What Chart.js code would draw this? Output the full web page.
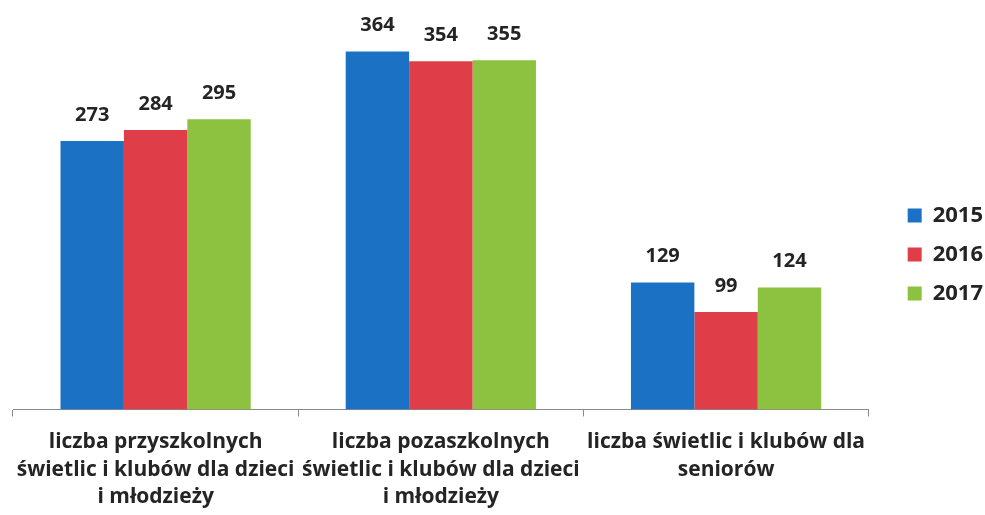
<!DOCTYPE html>
<html>
<head>
<meta charset="utf-8">
<script src="https://cdn.jsdelivr.net/npm/chart.js@4/dist/chart.umd.min.js"></script>
<style>
  html, body { margin: 0; padding: 0; background: #ffffff; }
  #wrap { width: 985px; height: 515px; position: relative; }
</style>
</head>
<body>
<div id="wrap"><canvas id="c"></canvas></div>
<script>
const categories = [
  ["liczba przyszkolnych", "świetlic i klubów dla dzieci", "i młodzieży"],
  ["liczba pozaszkolnych", "świetlic i klubów dla dzieci", "i młodzieży"],
  ["liczba świetlic i klubów dla", "seniorów"]
];
const seriesNames = ["2015", "2016", "2017"];
const values2015 = [273, 364, 129];
const values2016 = [284, 354, 99];
const values2017 = [295, 355, 124];
const seriesColors = ["#1b72c4", "#df3d48", "#8dc240"];

const textColor = "#242424";
const fontFamily = "'Open Sans', Lato, sans-serif";

const valueLabels = {
  id: 'valueLabels',
  afterDatasetsDraw(chart) {
    const ctx = chart.ctx;
    ctx.save();
    ctx.font = "bold 20px " + fontFamily;
    ctx.fillStyle = textColor;
    ctx.textAlign = 'center';
    ctx.textBaseline = 'middle';
    chart.data.datasets.forEach((ds, i) => {
      const meta = chart.getDatasetMeta(i);
      meta.data.forEach((el, j) => {
        ctx.fillText(String(ds.data[j]), el.x, el.y - 26);
      });
    });
    ctx.restore();
  }
};

// widen the legend's layout box and shift its drawing so that a gap is left
// between the plot area and the legend keys
const legendExtraWidth = 14;
const legendShiftX = 22;
const legendShiftY = -15;
const legendGap = {
  id: 'legendGap',
  afterInit(chart) {
    const lg = chart.legend;
    if (!lg || lg._gapWrapped) return;
    lg._gapWrapped = true;
    const origFit = lg.fit.bind(lg);
    lg.fit = function () { origFit(); this.width += legendExtraWidth; };
    const origDraw = lg.draw.bind(lg);
    lg.draw = function () {
      this.left += legendShiftX; this.right += legendShiftX;
      this.top += legendShiftY; this.bottom += legendShiftY;
      origDraw();
      this.left -= legendShiftX; this.right -= legendShiftX;
      this.top -= legendShiftY; this.bottom -= legendShiftY;
    };
  }
};

new Chart(document.getElementById('c'), {
  type: 'bar',
  data: {
    labels: categories,
    datasets: [
      { label: seriesNames[0], data: values2015, backgroundColor: seriesColors[0] },
      { label: seriesNames[1], data: values2016, backgroundColor: seriesColors[1] },
      { label: seriesNames[2], data: values2017, backgroundColor: seriesColors[2] }
    ]
  },
  options: {
    responsive: true,
    maintainAspectRatio: false,
    animation: false,
    layout: { padding: { left: 13, top: 16, right: 0, bottom: -8 } },
    datasets: { bar: { categoryPercentage: 0.667, barPercentage: 1.0 } },
    scales: {
      x: {
        offset: true,
        grid: { display: true, drawOnChartArea: false, drawTicks: true, tickLength: 7, color: '#8a8a8a', offset: true },
        border: { display: true, color: '#8a8a8a', width: 1 },
        ticks: {
          color: textColor,
          font: { family: fontFamily, size: 21, weight: 700, lineHeight: 1.31 },
          padding: 12,
          autoSkip: false,
          maxRotation: 0,
          minRotation: 0
        }
      },
      y: {
        display: false,
        min: 0,
        max: 400
      }
    },
    plugins: {
      legend: {
        position: 'right',
        align: 'center',
        labels: {
          boxWidth: 14,
          boxHeight: 14,
          padding: 17,
          color: textColor,
          font: { family: fontFamily, size: 22, weight: 700 }
        }
      },
      tooltip: { enabled: false }
    }
  },
  plugins: [valueLabels, legendGap]
});
</script>
</body>
</html>
